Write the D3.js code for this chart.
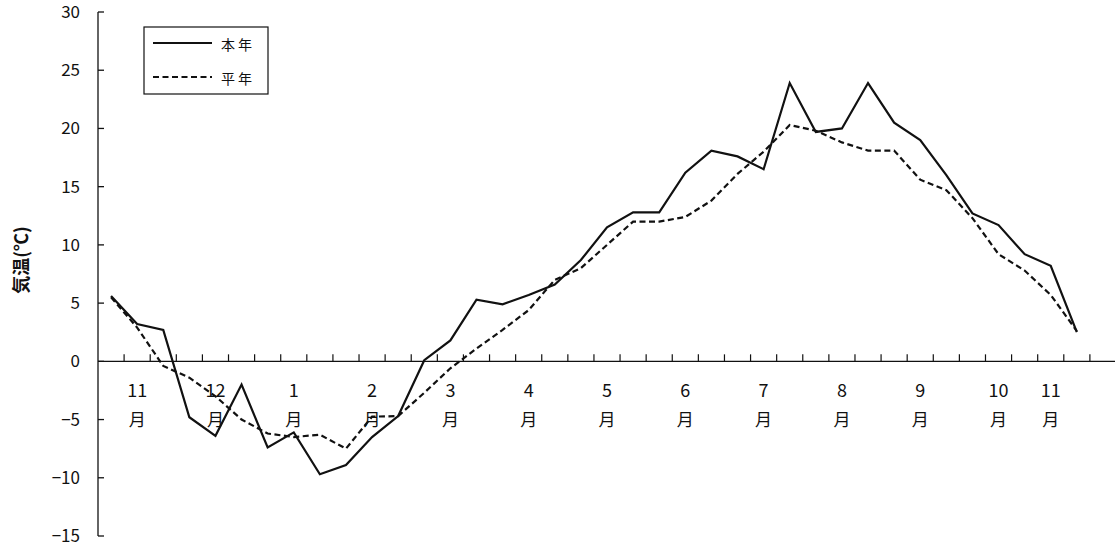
<!DOCTYPE html>
<html>
<head>
<meta charset="utf-8">
<script src="https://cdn.jsdelivr.net/npm/d3@7"></script>
<style>
  body { margin: 0; background: #fff; }
  svg { display: block; }
  text { font-family: "Noto Sans CJK JP", "Liberation Sans", sans-serif; fill: #111; }
</style>
</head>
<body>
<svg id="chart"></svg>
<script>
var width = 1115;
var height = 549;

// 10-day periods, Nov (first) to Nov (next year)
var thisYear = [5.6, 3.2, 2.7, -4.8, -6.4, -2.0, -7.4, -6.1, -9.7, -8.9,
                -6.5, -4.7, 0.1, 1.8, 5.3, 4.9, 5.7, 6.6, 8.7, 11.5,
                12.8, 12.8, 16.2, 18.1, 17.6, 16.5, 23.9, 19.7, 20.0, 23.9,
                20.5, 19.0, 16.0, 12.7, 11.7, 9.2, 8.2, 2.5];
var normalYear = [5.5, 2.9, -0.4, -1.4, -3.0, -5.0, -6.2, -6.5, -6.3, -7.5,
                  -4.75, -4.7, -2.7, -0.6, 1.1, 2.7, 4.4, 7.0, 8.0, 10.0,
                  12.0, 12.0, 12.4, 13.8, 16.1, 18.0, 20.3, 19.8, 18.8, 18.1,
                  18.1, 15.6, 14.7, 12.3, 9.2, 7.8, 5.7, 2.6];
var monthIndex = [1, 4, 7, 10, 13, 16, 19, 22, 25, 28, 31, 34, 36];
var monthLabels = ["11", "12", "1", "2", "3", "4", "5", "6", "7", "8", "9", "10", "11"];
var yTicks = [-15, -10, -5, 0, 5, 10, 15, 20, 25, 30];
var seriesNames = ["本年", "平年"];

var nBands = 39;
var x = d3.scaleBand().domain(d3.range(nBands)).range([98, 1116]).padding(0);
var y = d3.scaleLinear().domain([-15, 30]).range([536, 12]);

var svg = d3.select("#chart").attr("width", width).attr("height", height);

// y axis
var yAxis = svg.append("g").attr("transform", "translate(98,0)");
yAxis.append("line").attr("x1", 0).attr("x2", 0).attr("y1", y(30)).attr("y2", y(-15))
    .attr("stroke", "#111").attr("stroke-width", 1.3);
yAxis.selectAll("line.tick").data(yTicks).enter().append("line")
    .attr("class", "tick")
    .attr("x1", 0).attr("x2", 6)
    .attr("y1", function(d) { return y(d); })
    .attr("y2", function(d) { return y(d); })
    .attr("stroke", "#111").attr("stroke-width", 1.3);
yAxis.selectAll("text").data(yTicks).enter().append("text")
    .attr("x", -18)
    .attr("y", function(d) { return y(d); })
    .attr("dy", "0.35em")
    .attr("text-anchor", "end")
    .attr("font-size", 17)
    .text(function(d) { return d3.format("d")(d).replace("-", "\u2212"); });

svg.append("text")
    .attr("transform", "translate(28,260) rotate(-90)")
    .attr("text-anchor", "middle")
    .attr("font-size", 18)
    .attr("font-weight", "bold")
    .text("気温(℃)");

// x axis on zero line
var y0 = y(0);
svg.append("line").attr("x1", 98).attr("x2", 1116).attr("y1", y0).attr("y2", y0)
    .attr("stroke", "#111").attr("stroke-width", 1.3);
svg.append("g").selectAll("line").data(d3.range(1, nBands)).enter().append("line")
    .attr("x1", function(d) { return x(d); })
    .attr("x2", function(d) { return x(d); })
    .attr("y1", y0).attr("y2", y0 - 7)
    .attr("stroke", "#111").attr("stroke-width", 1.2);

var labels = svg.append("g").selectAll("g").data(monthIndex).enter().append("g")
    .attr("transform", function(d) { return "translate(" + (x(d) + x.bandwidth() / 2) + ",0)"; });
labels.append("text")
    .attr("y", 397).attr("text-anchor", "middle").attr("font-size", 18)
    .text(function(d, i) { return monthLabels[i]; });
labels.append("text")
    .attr("y", 426).attr("text-anchor", "middle").attr("font-size", 17)
    .text("月");

// lines
var line = d3.line()
    .x(function(d, i) { return x(i) + x.bandwidth() / 2; })
    .y(function(d) { return y(d); });

svg.append("path").datum(normalYear)
    .attr("d", line)
    .attr("fill", "none").attr("stroke", "#111").attr("stroke-width", 2.2)
    .attr("stroke-dasharray", "6,3.5");

svg.append("path").datum(thisYear)
    .attr("d", line)
    .attr("fill", "none").attr("stroke", "#111").attr("stroke-width", 2.2);

// legend
var legend = svg.append("g");
legend.append("rect").attr("x", 144).attr("y", 27).attr("width", 124).attr("height", 67)
    .attr("fill", "#fff").attr("stroke", "#111").attr("stroke-width", 1.2);
var items = legend.selectAll("g").data(seriesNames).enter().append("g")
    .attr("transform", function(d, i) { return "translate(0," + (43 + i * 34) + ")"; });
items.append("line").attr("x1", 153).attr("x2", 212).attr("y1", 0).attr("y2", 0)
    .attr("stroke", "#111").attr("stroke-width", 2.2)
    .attr("stroke-dasharray", function(d, i) { return i === 1 ? "6,3.5" : null; });
items.append("text").attr("x", 221).attr("y", 2).attr("dy", "0.35em")
    .attr("font-size", 14).attr("letter-spacing", 3)
    .text(function(d) { return d; });
</script>
</body>
</html>
